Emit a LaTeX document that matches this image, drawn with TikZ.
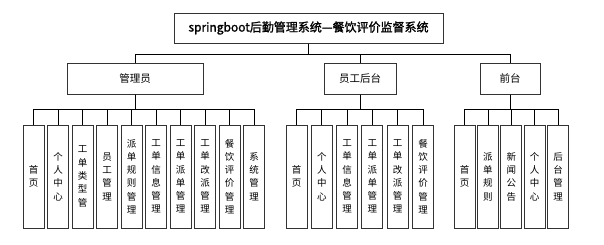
\documentclass[tikz,border=0pt]{standalone}
\usepackage{fontspec}
\usepackage{tikz}
\usetikzlibrary{positioning}
\newfontfamily\cjk{Noto Sans CJK SC}
\newfontfamily\cjkbold[FakeBold=1.5]{Noto Sans CJK SC}

\begin{document}
\begin{tikzpicture}[
  x=1pt,y=-1pt,
  head/.style={draw=black!80,line width=1pt,minimum width=269pt,minimum height=30pt,inner sep=0pt,font=\cjkbold\fontsize{12pt}{14pt}\selectfont},
  cat/.style={draw=black!80,line width=1pt,minimum height=31pt,inner sep=0pt,font=\cjk\fontsize{10.5pt}{12pt}\selectfont},
  leaf/.style={draw=black!80,line width=1pt,minimum width=21pt,minimum height=103pt,text width=10pt,inner sep=0pt,align=center,font=\cjk\fontsize{9.5pt}{13.3pt}\selectfont},
  link/.style={draw=black,line width=0.8pt}
]
\useasboundingbox (0,0) rectangle (604,244);
\node[head] (top) at (308.5,28) {springboot后勤管理系统—餐饮评价监督系统};
\node[cat,minimum width=136pt] (adm) at (135,78.5) {管理员};
\node[cat,minimum width=72pt] (staff) at (360,78.5) {员工后台};
\node[cat,minimum width=60pt] (front) at (510,78.5) {前台};
\draw[link] (top.south) -- ++(0,11) -| (adm.north);
\draw[link] (top.south) -- ++(0,11) -| (staff.north);
\draw[link] (top.south) -- ++(0,11) -| (front.north);
% admin pages
\foreach \t [count=\i] in {首\\页,个\\人\\中\\心,工\\单\\类\\型\\管,员\\工\\管\\理,派\\单\\规\\则\\管\\理,工\\单\\信\\息\\管\\理,工\\单\\派\\单\\管\\理,工\\单\\改\\派\\管\\理,餐\\饮\\评\\价\\管\\理,系\\统\\管\\理}{
  \node[leaf] (a\i) at ({33.5+24.5*(\i-1)},176.5) {\t};
  \draw[link] (adm.south) -- ++(0,15) -| (a\i.north);
}
% staff pages
\foreach \t [count=\i] in {首\\页,个\\人\\中\\心,工\\单\\信\\息\\管\\理,工\\单\\派\\单\\管\\理,工\\单\\改\\派\\管\\理,餐\\饮\\评\\价\\管\\理}{
  \node[leaf] (s\i) at ({296.5+25.3*(\i-1)},176.5) {\t};
  \draw[link] (staff.south) -- ++(0,15) -| (s\i.north);
}
% front pages
\foreach \t [count=\i] in {首\\页,派\\单\\规\\则,新\\闻\\公\\告,个\\人\\中\\心,后\\台\\管\\理}{
  \node[leaf] (f\i) at ({464.5+23.4*(\i-1)},176.5) {\t};
  \draw[link] (front.south) -- ++(0,15) -| (f\i.north);
}
\end{tikzpicture}
\end{document}
